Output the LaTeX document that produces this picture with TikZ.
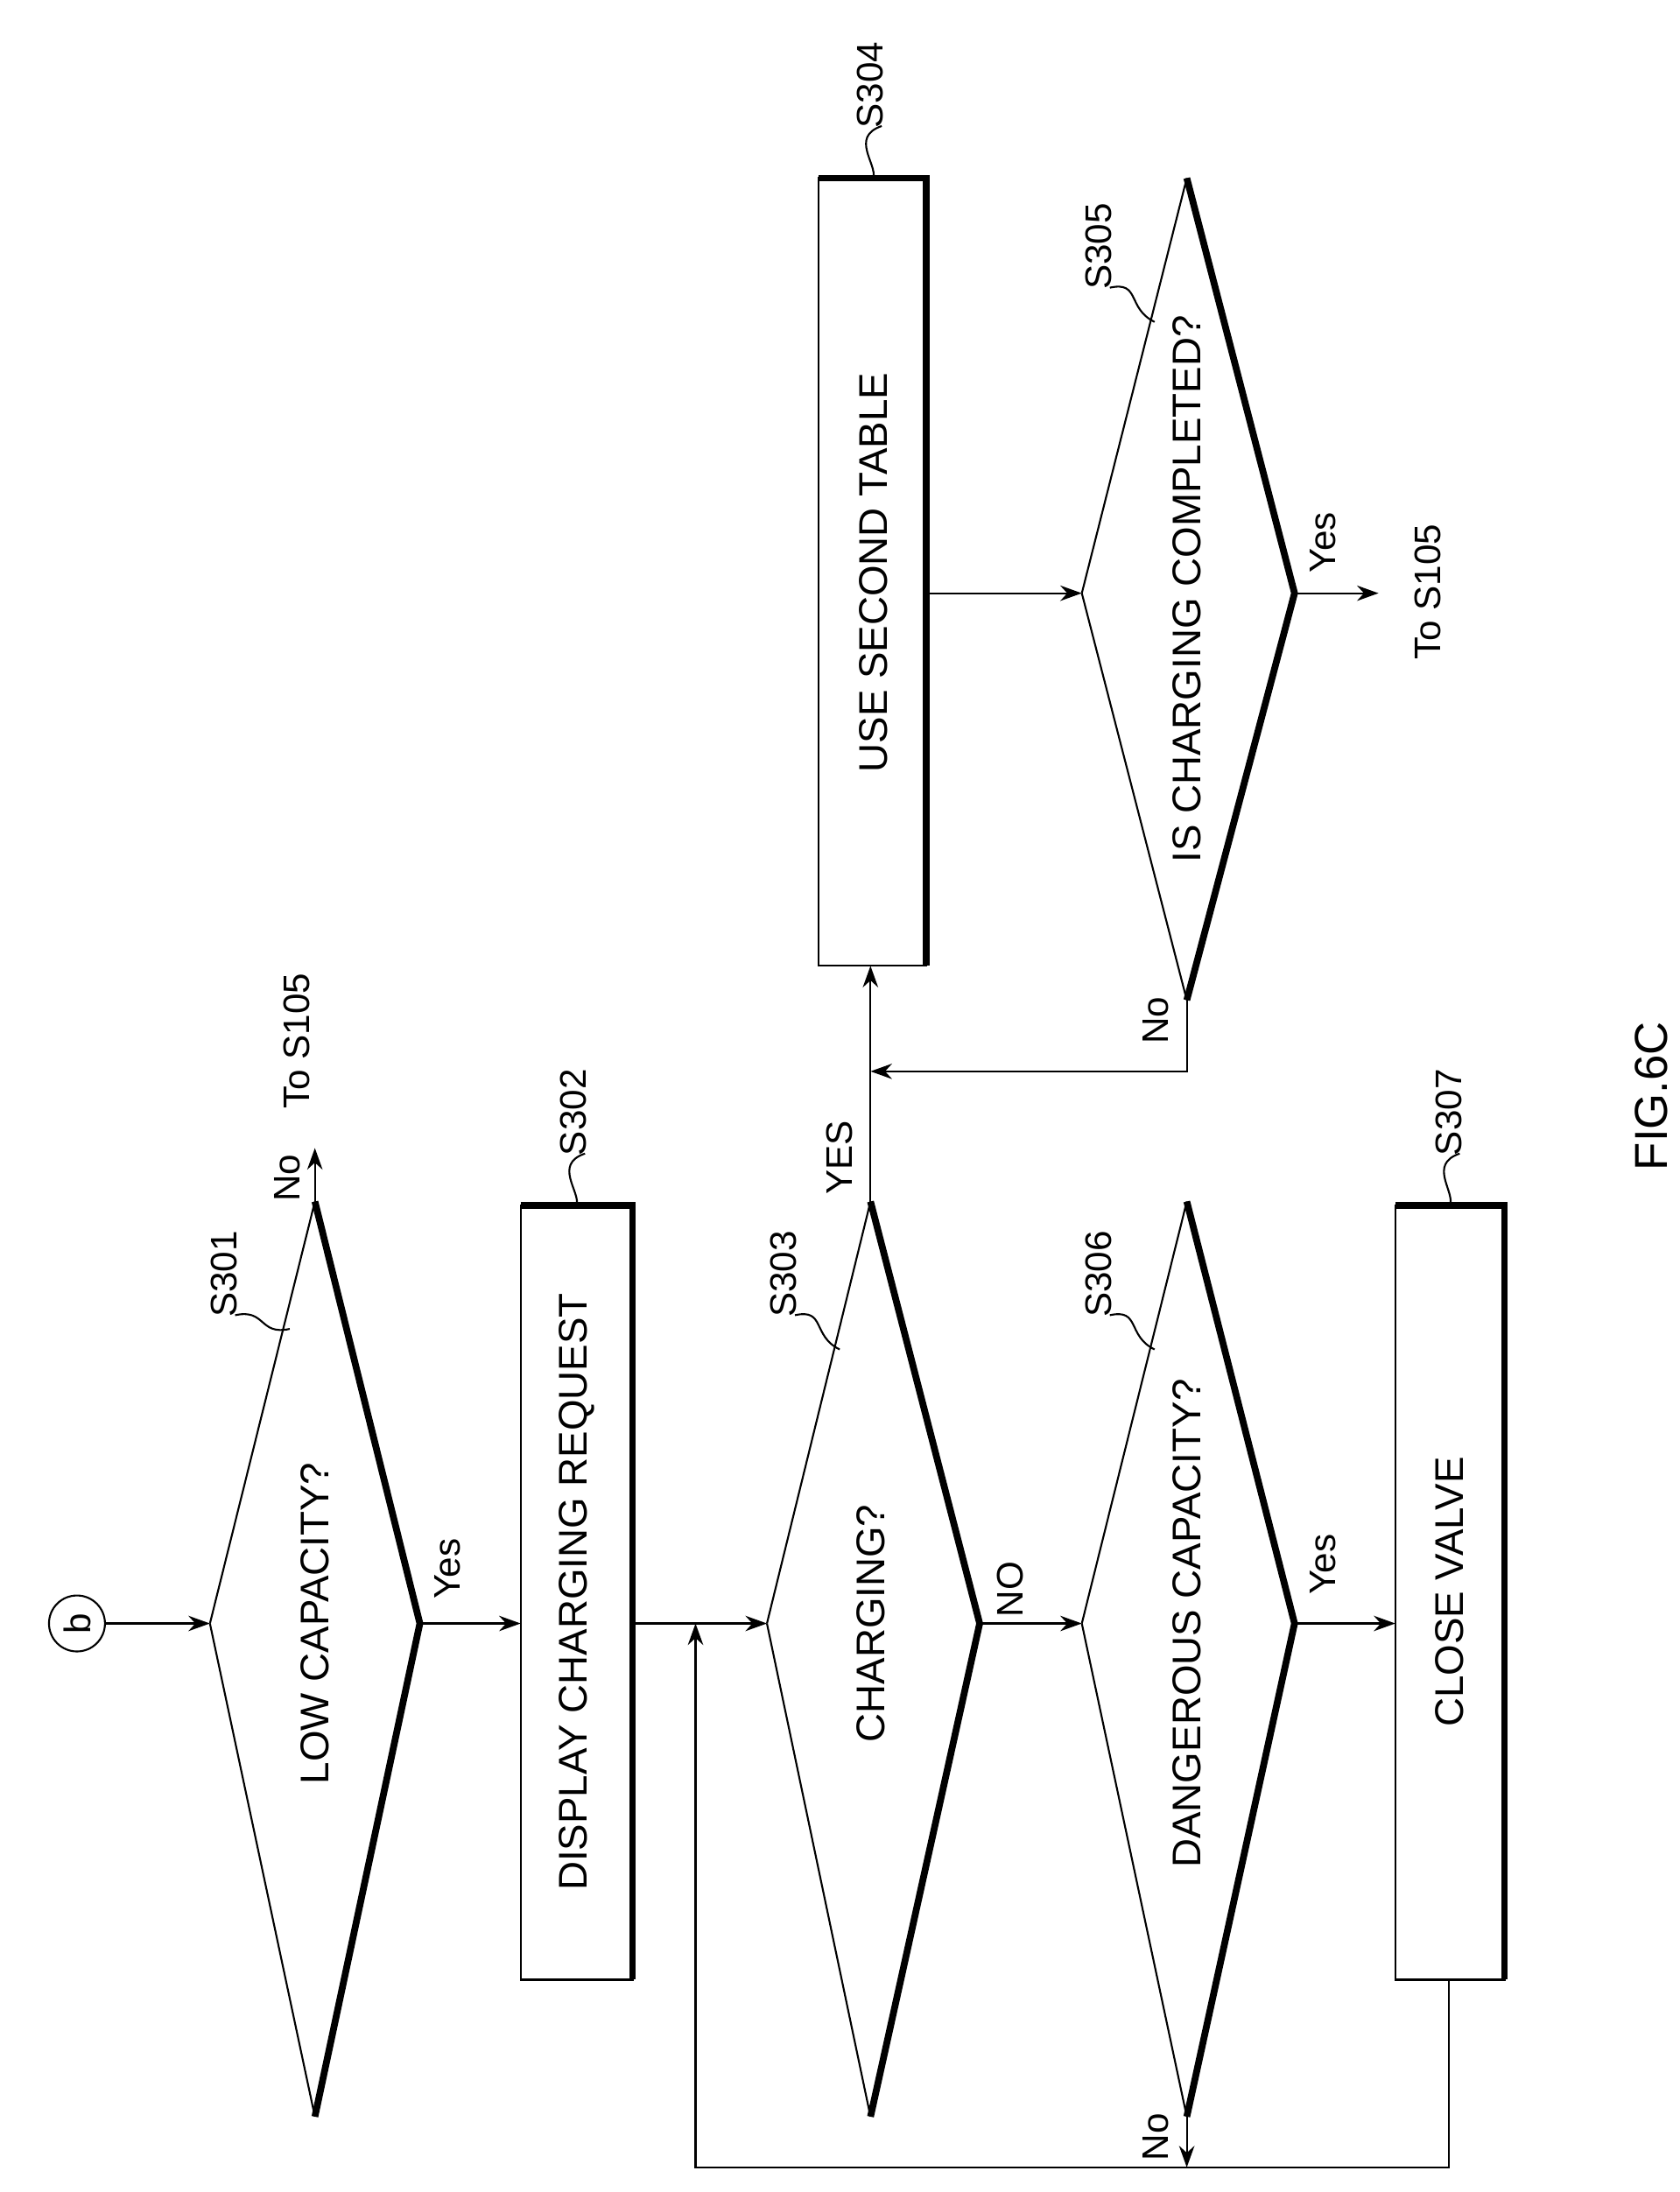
\documentclass[tikz,border=0pt]{standalone}
\usepackage{fontspec}
\setmainfont{Liberation Sans}
\usetikzlibrary{arrows.meta}
\begin{document}
\begin{tikzpicture}[
        x=0.015975cm, y=-0.01564cm,
        txt/.style={rotate=90, font=\fontsize{13}{13}\selectfont},
        lbl/.style={rotate=90, font=\fontsize{12}{12}\selectfont},
        thick edge/.style={line width=2.2pt},
        arr/.style={-{Stealth[length=7pt,width=5pt]}, line width=0.6pt},
        every path/.style={line width=0.6pt}
    ]
    \useasboundingbox (0,0) rectangle (1200,1600);
    % start
    \node[draw, circle, minimum size=40*0.015975cm, inner sep=0pt, lbl] (b) at (55,1185) {b};
    % S301
    \coordinate (A1) at (150,1185); \coordinate (A2) at (225,877);
    \coordinate (A3) at (300,1185); \coordinate (A4) at (225,1545);
    \draw (A1)--(A2); \draw (A4)--(A1);
    \draw[thick edge] (A2)--(A3)--(A4);
    \node[txt] (a) at (225,1185) {LOW CAPACITY?};
    % S302
    \draw (372,880) rectangle (452,1445);
    \draw[thick edge] (372,880)--(452,880)--(452,1445);
    \node[txt] (d) at (412,1162) {DISPLAY CHARGING REQUEST};
    \coordinate (D1) at (372,1185); \coordinate (D2) at (452,1185);
    % S303
    \coordinate (C1) at (548,1185); \coordinate (C2) at (622,877);
    \coordinate (C3) at (700,1185); \coordinate (C4) at (622,1545);
    \draw (C1)--(C2); \draw (C4)--(C1);
    \draw[thick edge] (C2)--(C3)--(C4);
    \node[txt] (c) at (622,1185) {CHARGING?};
    % S306
    \coordinate (E1) at (773,1185); \coordinate (E2) at (848,877);
    \coordinate (E3) at (925,1185); \coordinate (E4) at (848,1545);
    \draw (E1)--(E2); \draw (E4)--(E1);
    \draw[thick edge] (E2)--(E3)--(E4);
    \node[txt] (e) at (848,1185) {DANGEROUS CAPACITY?};
    % S307
    \draw (997,880) rectangle (1075,1445);
    \draw[thick edge] (997,880)--(1075,880)--(1075,1445);
    \node[txt] (v) at (1036,1162) {CLOSE VALVE};
    \coordinate (V1) at (997,1185); \coordinate (V2) at (1035,1445);
    % S304
    \draw (585,130) rectangle (662,705);
    \draw[thick edge] (585,130)--(662,130)--(662,705);
    \node[txt] (t) at (624,418) {USE SECOND TABLE};
    \coordinate (T1) at (622,705); \coordinate (T2) at (662,433);
    % S305
    \coordinate (F1) at (773,433); \coordinate (F2) at (848,130);
    \coordinate (F3) at (925,433); \coordinate (F4) at (848,730);
    \draw (F1)--(F2); \draw (F4)--(F1);
    \draw[thick edge] (F2)--(F3)--(F4);
    \node[txt] (f) at (848,430) {IS CHARGING COMPLETED?};
    % connectors
    \coordinate (m) at (497,1185);
    \coordinate (n) at (622,782);
    \coordinate (o1) at (225,838);
    \coordinate (o2) at (985,433);
    \coordinate (o3) at (848,1582);
    \draw[arr] (b)--(A1);
    \draw[arr] (A3)--(D1);
    \draw[arr] (A2)--(o1);
    \draw (D2)--(m);
    \draw[arr] (m)--(C1);
    \draw[arr] (C3)--(E1);
    \draw[arr] (E3)--(V1);
    \draw[arr] (E4)--(o3);
    \draw[arr] (V2)--(1035,1582)--(497,1582)--(m);
    \draw[arr] (C2)--(T1);
    \draw[arr] (T2)--(F1);
    \draw[arr] (F3)--(o2);
    \draw[arr] (F4)--(848,782)--(n);
    % branch labels
    \node[lbl] at (205,860) {No};
    \node[lbl] at (212,760) {To S105};
    \node[lbl] at (320,1145) {Yes};
    \node[lbl] at (600,845) {YES};
    \node[lbl] at (722,1160) {NO};
    \node[lbl] at (945,1142) {Yes};
    \node[lbl] at (826,1560) {No};
    \node[lbl] at (826,745) {No};
    \node[lbl] at (945,396) {Yes};
    \node[lbl] at (1020,432) {To S105};
    % step labels
    \node[lbl] (l1) at (160,930) {S301};
    \draw (168,960) .. controls (190,955) and (185,975) .. (207,970);
    \node[lbl] (l2) at (410,812) {S302};
    \draw (418,842) .. controls (395,850) and (415,870) .. (412,880);
    \node[lbl] (l3) at (560,930) {S303};
    \draw (568,960) .. controls (590,955) and (580,975) .. (600,985);
    \node[lbl] (l6) at (785,930) {S306};
    \draw (793,960) .. controls (815,955) and (805,975) .. (825,985);
    \node[lbl] (l7) at (1035,812) {S307};
    \draw (1043,842) .. controls (1020,850) and (1040,870) .. (1036,880);
    \node[lbl] (l4) at (622,62) {S304};
    \draw (630,92) .. controls (607,100) and (627,120) .. (624,130);
    \node[lbl] (l5) at (785,180) {S305};
    \draw (793,210) .. controls (815,205) and (805,225) .. (825,235);
    \node[rotate=90, font=\fontsize{15}{15}\selectfont] (fig) at (1180,800) {FIG.6C};
\end{tikzpicture}
\end{document}
